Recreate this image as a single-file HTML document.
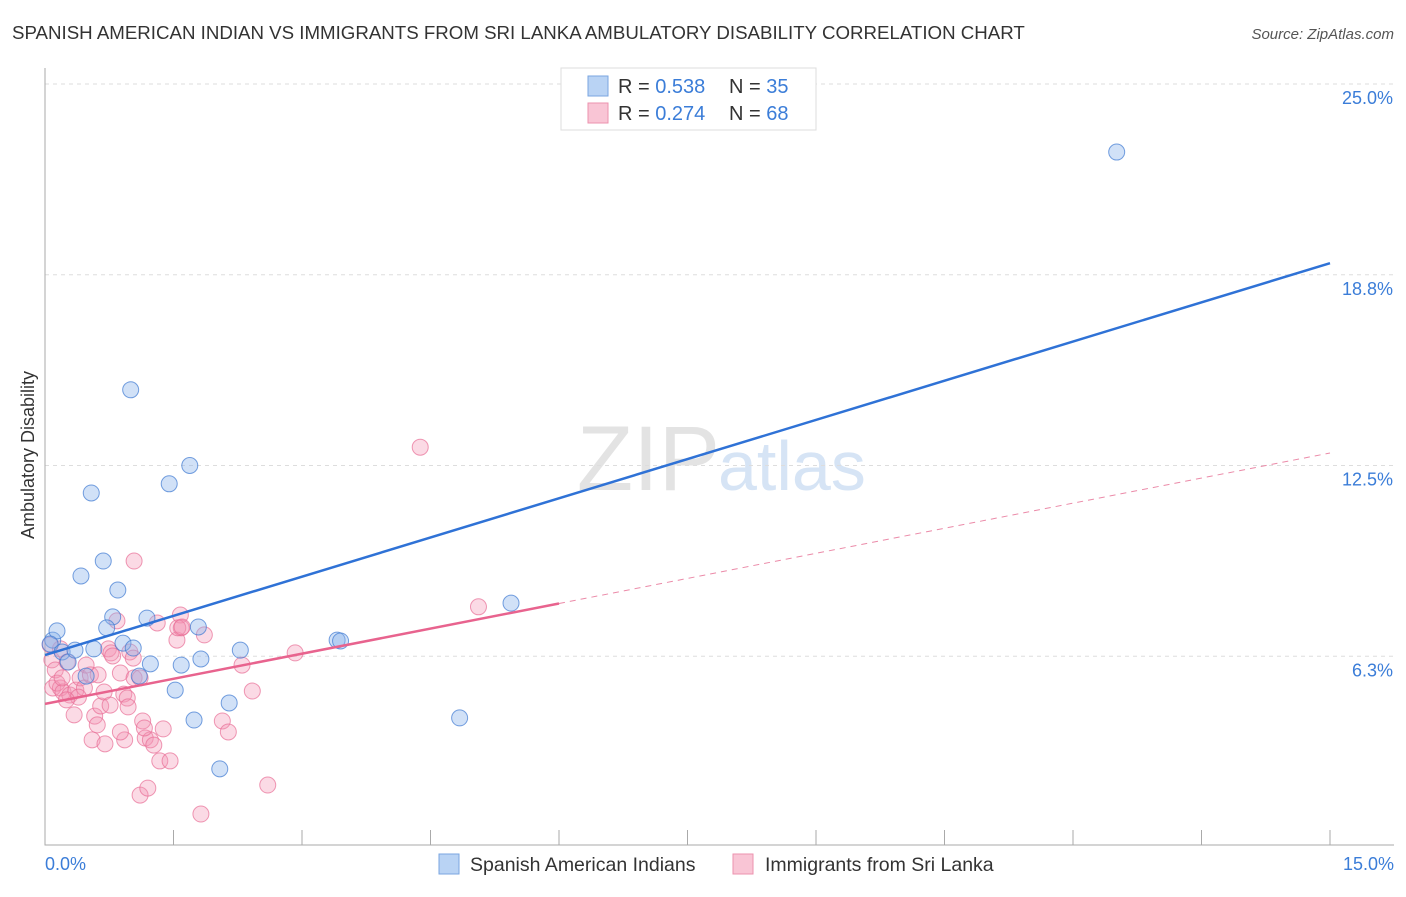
<!DOCTYPE html>
<html><head><meta charset="utf-8"><style>
body{margin:0;background:#fff;font-family:"Liberation Sans",sans-serif}
svg text{font-family:"Liberation Sans",sans-serif}
</style></head><body>
<svg id="c" width="1406" height="892">
<text x="12" y="39" font-size="18.7" fill="#333">SPANISH AMERICAN INDIAN VS IMMIGRANTS FROM SRI LANKA AMBULATORY DISABILITY CORRELATION CHART</text>
<text x="1394" y="39" font-size="15" fill="#555" font-style="italic" text-anchor="end">Source: ZipAtlas.com</text>
<text x="720" y="490" font-size="92" fill="#e3e3e3" text-anchor="end" font-family="Liberation Serif">ZIP</text>
<text x="718" y="490" font-size="70" fill="#d6e4f5">atlas</text>
<g id="grid"></g><g id="axes"></g><g id="pts"></g><g id="lines"></g>
<text transform="translate(34,455) rotate(-90)" font-size="18" fill="#333" text-anchor="middle">Ambulatory Disability</text>
<text x="45" y="870" font-size="18" fill="#3b7dd8">0.0%</text>
<text x="1394" y="870" font-size="18" fill="#3b7dd8" text-anchor="end">15.0%</text>
<g>
<rect x="561" y="68" width="255" height="62" fill="#fff" stroke="#ddd"/>
<rect x="588" y="76" width="20" height="20" fill="#b9d3f4" stroke="#7aa6e0"/>
<rect x="588" y="103" width="20" height="20" fill="#f9c5d5" stroke="#ec92ae"/>
<text x="618" y="93" font-size="20" fill="#333">R = <tspan fill="#3b7dd8">0.538</tspan></text>
<text x="729" y="93" font-size="20" fill="#333">N = <tspan fill="#3b7dd8">35</tspan></text>
<text x="618" y="120" font-size="20" fill="#333">R = <tspan fill="#3b7dd8">0.274</tspan></text>
<text x="729" y="120" font-size="20" fill="#333">N = <tspan fill="#3b7dd8">68</tspan></text>
</g>
<g>
<rect x="439" y="854" width="20" height="20" fill="#b9d3f4" stroke="#7aa6e0"/>
<text x="470" y="871" font-size="19.5" fill="#333">Spanish American Indians</text>
<rect x="733" y="854" width="20" height="20" fill="#f9c5d5" stroke="#ec92ae"/>
<text x="765" y="871" font-size="19.5" fill="#333">Immigrants from Sri Lanka</text>
</g>
</svg>
<script>
const yTicks=[25,18.75,12.5,6.25];
const yTickLabels=["25.0%","18.8%","12.5%","6.3%"];
const blueX=[0.09,0.14,0.06,0.2,0.27,0.35,0.57,0.48,0.42,0.54,0.68,0.79,0.85,0.72,0.91,1.0,1.03,1.1,1.19,1.23,1.45,1.59,1.52,1.69,1.79,1.82,1.74,2.15,2.28,2.04,3.41,3.45,4.84,5.44,12.51];
const blueY=[6.78,7.08,6.65,6.39,6.06,6.45,6.49,5.60,8.88,11.6,9.37,7.54,8.42,7.18,6.68,14.98,6.52,5.60,7.50,6.00,11.9,5.96,5.14,12.5,7.21,6.16,4.16,4.72,6.45,2.56,6.78,6.75,4.23,7.99,22.77];
const pinkX=[0.06,0.08,0.12,0.09,0.18,0.14,0.21,0.26,0.29,0.34,0.36,0.41,0.46,0.48,0.53,0.58,0.55,0.61,0.62,0.65,0.69,0.74,0.77,0.79,0.84,0.88,0.92,0.96,0.97,0.99,1.03,1.04,1.04,1.11,1.14,1.17,1.2,1.23,1.27,1.31,1.34,1.38,1.46,1.54,1.58,1.59,1.55,1.6,1.82,1.86,2.07,2.14,2.3,2.42,2.6,2.92,4.38,5.06,0.18,0.2,0.39,0.25,0.7,0.93,1.16,0.76,1.11,0.88];
const pinkY=[6.62,6.13,5.80,5.21,5.21,5.37,5.08,6.06,4.98,4.33,5.14,5.54,5.21,5.96,5.64,4.29,3.51,4.00,5.64,4.62,5.08,6.49,6.36,6.26,7.41,5.70,5.01,4.88,4.59,6.39,6.19,9.37,5.54,1.70,4.13,3.57,1.93,3.51,3.34,7.34,2.82,3.87,2.82,6.78,7.60,7.18,7.18,7.21,1.08,6.95,4.13,3.77,5.96,5.11,2.03,6.36,13.1,7.87,6.49,5.54,4.91,4.82,3.38,3.51,3.90,4.65,5.54,3.77];
const blueLine=[6.29,19.13];
const pinkLine=[4.69,12.91];
const pinkSolidEnd=6.0;
const X0=45,X1=1330,XMAX=15,YB=847,PPU=30.52;
const sx=v=>X0+(X1-X0)*v/XMAX, sy=v=>YB-v*PPU;
const NS="http://www.w3.org/2000/svg";
function mk(p,t,a){const e=document.createElementNS(NS,t);for(const k in a)e.setAttribute(k,a[k]);document.getElementById(p).appendChild(e);return e;}
yTicks.forEach((t,i)=>{
 const g=mk('grid','line',{x1:45,x2:1394,y1:sy(t),y2:sy(t),stroke:'#ddd','stroke-dasharray':'4,4'});
 
 
 const l=mk('grid','text',{x:1393,y:sy(t)+20,'font-size':18,fill:'#3b7dd8','text-anchor':'end'});
 l.textContent=yTickLabels[i];
 
 
});
const ax=mk('axes','path',{d:'M45,68V845H1394',fill:'none',stroke:'#aaa'});


for(let i=0;i<=10;i++){const t=mk('axes','line',{x1:sx(i*1.5),x2:sx(i*1.5),y1:830,y2:845,stroke:'#aaa'});
 
 }
pinkX.forEach((x,i)=>{const c=mk('pts','circle',{cx:sx(x),cy:sy(pinkY[i]),r:8,fill:'rgba(244,150,180,0.35)',stroke:'rgba(232,110,150,0.7)'});
 
 });
blueX.forEach((x,i)=>{const c=mk('pts','circle',{cx:sx(x),cy:sy(blueY[i]),r:8,fill:'rgba(140,180,235,0.4)',stroke:'rgba(60,120,210,0.7)'});
 
 });
const pv=x=>pinkLine[0]+(pinkLine[1]-pinkLine[0])*x/XMAX;
const bl=mk('lines','line',{x1:sx(0),y1:sy(blueLine[0]),x2:sx(15),y2:sy(blueLine[1]),stroke:'#2f72d6','stroke-width':2.5});


const ps=mk('lines','line',{x1:sx(0),y1:sy(pv(0)),x2:sx(pinkSolidEnd),y2:sy(pv(pinkSolidEnd)),stroke:'#e8638e','stroke-width':2.5});


const pd=mk('lines','line',{x1:sx(pinkSolidEnd),y1:sy(pv(pinkSolidEnd)),x2:sx(15),y2:sy(pv(15)),stroke:'#eb8aa8','stroke-width':1,'stroke-dasharray':'6,5'});


</script>
</body></html>
